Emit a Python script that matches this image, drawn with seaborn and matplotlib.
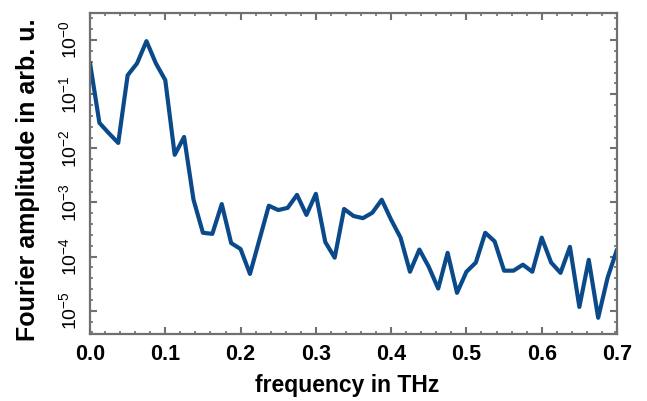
import numpy as np
import pandas as pd
import matplotlib
matplotlib.use("Agg")
import matplotlib.pyplot as plt
import seaborn as sns
from matplotlib.ticker import MultipleLocator

# frequency grid (0 .. 0.7 THz, 57 samples)
freq_thz = np.linspace(0.0, 0.7, 57)

# log10 of the Fourier amplitude
log_amp = [-0.42, -1.53, -1.72, -1.90, -0.65, -0.43, -0.02, -0.43, -0.74, -2.12,
           -1.79, -2.95, -3.56, -3.58, -3.03, -3.75, -3.86, -4.32, -3.69, -3.06,
           -3.14, -3.10, -2.86, -3.23, -2.84, -3.73, -4.02, -3.12, -3.25, -3.29,
           -3.19, -2.95, -3.32, -3.65, -4.28, -3.87, -4.19, -4.59, -3.93, -4.67,
           -4.28, -4.11, -3.56, -3.72, -4.26, -4.26, -4.15, -4.28, -3.65, -4.11,
           -4.30, -3.82, -4.93, -4.06, -5.13, -4.39, -3.87]

decades = [0, -1, -2, -3, -4, -5]
decade_labels = [r'$\mathregular{10^{-0}}$', r'$\mathregular{10^{-1}}$', r'$\mathregular{10^{-2}}$',
                 r'$\mathregular{10^{-3}}$', r'$\mathregular{10^{-4}}$', r'$\mathregular{10^{-5}}$']
x_ticks = [0.0, 0.1, 0.2, 0.3, 0.4, 0.5, 0.6, 0.7]

df = pd.DataFrame({'freq': freq_thz, 'amp': log_amp})

sns.set_theme(style="ticks")
plt.rcParams['font.family'] = ['Liberation Sans', 'DejaVu Sans']
plt.rcParams['mathtext.fontset'] = 'custom'
plt.rcParams['mathtext.rm'] = 'Liberation Sans'

fig = plt.figure(figsize=(6.47, 4.01), dpi=100)
ax = fig.add_axes([90 / 647, 67 / 401, 527 / 647, 321 / 401])

sns.lineplot(data=df, x='freq', y='amp', ax=ax, color='#0b4a8a', linewidth=3.0)

ax.set_xlim(0.0, 0.7)
ax.set_ylim(-5.43, 0.5)

ax.set_xticks(x_ticks)
ax.set_xticklabels(['%.1f' % v for v in x_ticks], fontweight='bold', fontsize=15.5)
ax.xaxis.set_minor_locator(MultipleLocator(0.02))
ax.set_yticks(decades)
ax.set_yticklabels(decade_labels, rotation=90, va='center', fontsize=14)
ax.yaxis.set_minor_locator(MultipleLocator(0.2))

# ticks inside, on all four sides
ax.tick_params(axis='both', which='both', direction='in', top=True, right=True,
               colors='#707070', labelcolor='black')
ax.tick_params(axis='both', which='major', length=5, width=1.5)
ax.tick_params(axis='both', which='minor', length=2.5, width=1.2)
ax.tick_params(axis='x', which='major', pad=7)
ax.tick_params(axis='y', which='major', pad=7)

for side in ax.spines.values():
    side.set_color('#707070')
    side.set_linewidth(1.6)

ax.set_xlabel('frequency in THz', fontweight='bold', fontsize=16.5, color='black')
ax.set_ylabel('Fourier amplitude in arb. u.', fontweight='bold', fontsize=18, color='black')
ax.xaxis.set_label_coords(0.488, -0.125)
ax.yaxis.set_label_coords(-0.095, 0.48)

fig.savefig('out.png', dpi=100)
